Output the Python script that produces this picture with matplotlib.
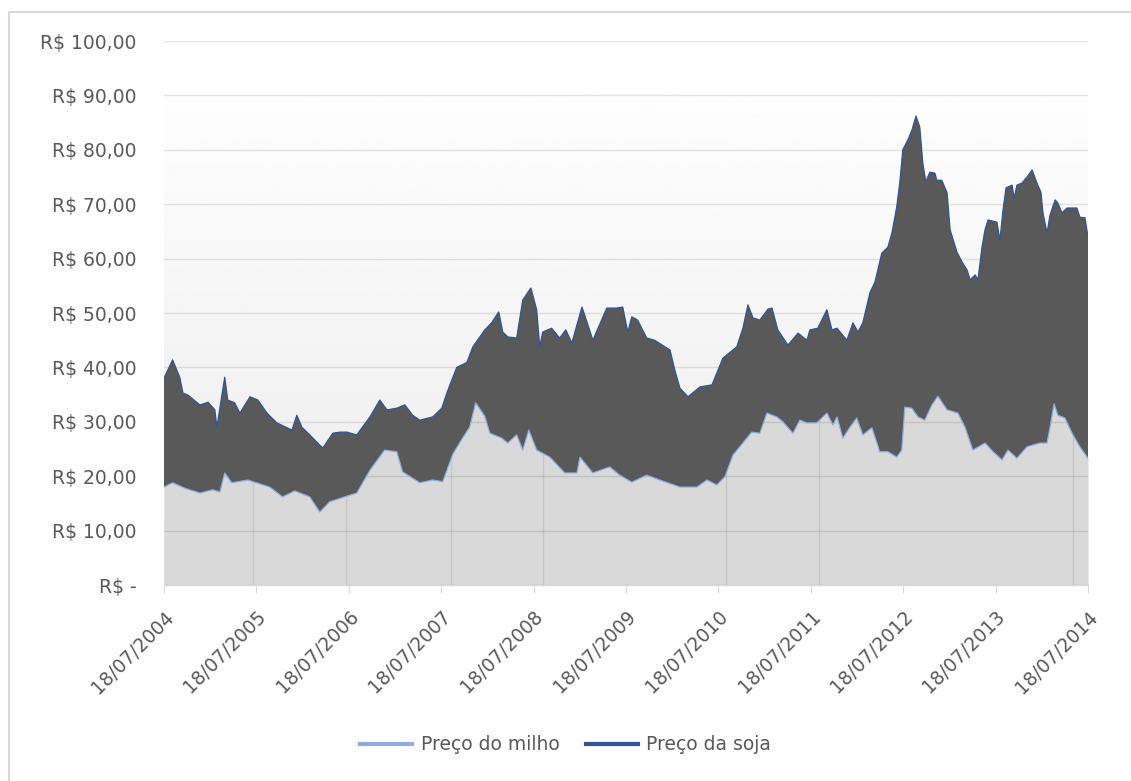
import numpy as np
import pandas as pd
import matplotlib
matplotlib.use("Agg")
import matplotlib.pyplot as plt
import matplotlib.dates as mdates
from matplotlib.lines import Line2D

# soy price (upper series)
soy_dates = ['2004-07-18', '2004-08-21', '2004-09-18', '2004-10-01', '2004-10-21', '2004-12-07',
             '2005-01-08', '2005-02-04', '2005-02-12', '2005-03-15', '2005-03-27', '2005-04-23',
             '2005-05-14', '2005-06-23', '2005-07-24', '2005-08-29', '2005-10-07', '2005-11-16',
             '2005-12-06', '2005-12-25', '2006-01-14', '2006-02-14', '2006-03-26', '2006-04-07',
             '2006-05-16', '2006-06-13', '2006-07-11', '2006-08-19', '2006-10-10', '2006-11-18',
             '2006-12-16', '2007-01-24', '2007-02-25', '2007-03-28', '2007-04-25', '2007-06-15',
             '2007-07-21', '2007-08-10', '2007-09-18', '2007-10-28', '2007-11-21', '2008-01-07',
             '2008-02-03', '2008-03-02', '2008-03-18', '2008-04-07', '2008-05-12', '2008-06-05',
             '2008-07-07', '2008-07-30', '2008-08-11', '2008-08-23', '2008-09-27', '2008-10-29',
             '2008-11-22', '2008-12-16', '2009-01-25', '2009-03-09', '2009-05-03', '2009-06-11',
             '2009-07-05', '2009-07-25', '2009-08-10', '2009-09-02', '2009-10-08', '2009-11-08',
             '2010-01-08', '2010-01-27', '2010-02-16', '2010-03-20', '2010-05-06', '2010-06-23',
             '2010-08-05', '2010-09-29', '2010-10-23', '2010-11-12', '2010-12-02', '2010-12-29',
             '2011-01-30', '2011-02-15', '2011-03-10', '2011-04-19', '2011-05-29', '2011-07-03',
             '2011-07-15', '2011-08-15', '2011-09-20', '2011-10-10', '2011-10-30', '2011-12-08',
             '2012-01-01', '2012-01-21', '2012-02-09', '2012-03-08', '2012-03-28', '2012-04-24',
             '2012-05-18', '2012-06-03', '2012-06-22', '2012-07-04', '2012-07-16', '2012-08-05',
             '2012-08-21', '2012-09-06', '2012-09-21', '2012-10-03', '2012-10-15', '2012-10-31',
             '2012-11-20', '2012-11-27', '2012-12-17', '2013-01-07', '2013-01-19', '2013-02-15',
             '2013-03-07', '2013-03-27', '2013-04-08', '2013-04-28', '2013-05-09', '2013-05-25',
             '2013-06-06', '2013-06-18', '2013-07-23', '2013-08-04', '2013-08-16', '2013-08-28',
             '2013-09-21', '2013-09-29', '2013-10-10', '2013-10-30', '2013-11-19', '2013-12-09',
             '2013-12-28', '2014-01-13', '2014-01-21', '2014-02-06', '2014-02-18', '2014-03-10',
             '2014-03-21', '2014-04-06', '2014-04-26', '2014-06-04', '2014-06-16', '2014-07-06',
             '2014-07-18']
soy_price = [38.0, 41.4, 38.2, 35.3, 34.9, 33.1,
             33.6, 32.2, 29.0, 38.2, 34.0, 33.5,
             31.6, 34.6, 34.0, 31.6, 29.8, 28.9,
             28.5, 31.2, 29.0, 27.6, 25.7, 25.2,
             27.9, 28.1, 28.1, 27.6, 30.9, 34.0,
             32.2, 32.5, 33.1, 31.2, 30.3, 30.9,
             32.5, 35.3, 40.0, 40.9, 43.8, 46.9,
             48.2, 50.2, 46.5, 45.6, 45.4, 52.4,
             54.6, 50.6, 43.8, 46.5, 47.2, 45.4,
             46.9, 44.5, 51.1, 45.0, 50.9, 50.9,
             51.1, 46.5, 49.3, 48.7, 45.4, 45.0,
             43.2, 39.5, 36.2, 34.6, 36.4, 36.8,
             41.7, 43.8, 47.2, 51.5, 49.1, 48.7,
             50.7, 50.9, 46.9, 44.1, 46.3, 45.0,
             46.9, 47.2, 50.6, 46.9, 47.2, 45.0,
             48.2, 46.5, 48.2, 53.7, 55.7, 61.0,
             62.1, 64.7, 69.5, 73.9, 80.0, 81.8,
             83.6, 86.2, 84.2, 77.6, 74.1, 75.9,
             75.7, 74.4, 74.4, 72.1, 65.3, 61.2,
             59.4, 57.9, 56.1, 57.0, 56.1, 62.1,
             65.3, 67.1, 66.7, 63.4, 68.9, 73.0,
             73.5, 71.1, 73.5, 73.9, 75.0, 76.3,
             73.9, 72.2, 68.4, 64.7, 68.0, 70.8,
             70.2, 68.4, 69.3, 69.3, 67.6, 67.5,
             64.0]

# corn price (lower series)
corn_dates = ['2004-07-18', '2004-08-21', '2004-10-08', '2004-12-07', '2005-01-27', '2005-02-24',
              '2005-03-15', '2005-04-12', '2005-06-14', '2005-09-09', '2005-10-30', '2005-12-17',
              '2006-02-14', '2006-03-26', '2006-05-04', '2006-07-02', '2006-08-19', '2006-10-10',
              '2006-12-07', '2007-01-24', '2007-02-16', '2007-04-25', '2007-06-15', '2007-07-25',
              '2007-09-02', '2007-10-07', '2007-11-08', '2007-12-02', '2008-01-07', '2008-01-27',
              '2008-03-14', '2008-04-07', '2008-05-12', '2008-06-05', '2008-06-29', '2008-07-30',
              '2008-09-20', '2008-11-18', '2009-01-05', '2009-01-17', '2009-03-09', '2009-05-15',
              '2009-06-23', '2009-08-10', '2009-10-08', '2009-11-29', '2010-02-16', '2010-04-24',
              '2010-06-03', '2010-07-12', '2010-08-13', '2010-09-14', '2010-10-23', '2010-11-27',
              '2010-12-29', '2011-01-26', '2011-03-06', '2011-03-30', '2011-05-09', '2011-06-05',
              '2011-07-03', '2011-08-11', '2011-09-20', '2011-10-14', '2011-10-30', '2011-11-22',
              '2011-12-20', '2012-01-16', '2012-02-09', '2012-03-16', '2012-04-16', '2012-05-18',
              '2012-06-22', '2012-07-12', '2012-07-24', '2012-08-21', '2012-09-14', '2012-10-11',
              '2012-11-08', '2012-12-02', '2013-01-07', '2013-02-19', '2013-03-19', '2013-04-19',
              '2013-06-06', '2013-07-08', '2013-08-12', '2013-09-05', '2013-10-10', '2013-11-19',
              '2014-01-09', '2014-02-06', '2014-02-18', '2014-03-06', '2014-03-21', '2014-04-18',
              '2014-05-16', '2014-06-16', '2014-07-18']
corn_price = [18.0, 18.8, 17.8, 16.9, 17.5, 17.1,
              20.6, 18.8, 19.3, 18.0, 16.2, 17.3,
              16.2, 13.4, 15.3, 16.2, 16.9, 21.1,
              24.8, 24.5, 20.8, 18.8, 19.3, 19.0,
              24.0, 26.7, 29.0, 33.5, 31.0, 27.9,
              27.0, 26.1, 27.6, 24.8, 28.5, 24.8,
              23.5, 20.6, 20.6, 23.5, 20.6, 21.7,
              20.2, 18.9, 20.2, 19.3, 18.0, 18.0,
              19.3, 18.4, 19.9, 23.9, 26.1, 28.1,
              27.9, 31.6, 30.9, 30.0, 27.9, 30.3,
              29.8, 29.8, 31.6, 29.4, 30.9, 27.0,
              29.0, 30.7, 27.6, 28.9, 24.5, 24.5,
              23.5, 24.8, 32.7, 32.5, 30.9, 30.3,
              33.1, 34.7, 32.2, 31.6, 29.0, 24.8,
              26.1, 24.5, 23.0, 24.8, 23.3, 25.4,
              26.1, 26.1, 29.0, 33.3, 31.2, 30.7,
              27.9, 25.4, 23.3]

# days missing from the daily series
gap_dates = ['2005-07-05', '2006-07-07', '2007-08-26', '2008-08-24',
             '2010-08-17', '2011-08-20', '2014-05-19']

tick_dates = ['2004-07-18', '2005-07-18', '2006-07-18', '2007-07-18', '2008-07-18', '2009-07-18',
              '2010-07-18', '2011-07-18', '2012-07-18', '2013-07-18', '2014-07-18']
y_ticks = [0, 10, 20, 30, 40, 50, 60, 70, 80, 90, 100]
y_labels = ['R$ -', 'R$ 10,00', 'R$ 20,00', 'R$ 30,00', 'R$ 40,00', 'R$ 50,00',
            'R$ 60,00', 'R$ 70,00', 'R$ 80,00', 'R$ 90,00', 'R$ 100,00']

plt.rcParams['font.family'] = ['DejaVu Sans']
txt = '#595959'

sd = mdates.date2num(pd.to_datetime(soy_dates))
cd = mdates.date2num(pd.to_datetime(corn_dates))
td = mdates.date2num(pd.to_datetime(tick_dates))
gd = mdates.date2num(pd.to_datetime(gap_dates))

fig = plt.figure(figsize=(11.31, 7.81), dpi=100)
ax = fig.add_axes([164 / 1131, 1 - 585 / 781, 924 / 1131, 544 / 781])
ax.set_xlim(td[0], td[-1])
ax.set_ylim(0, 100)

# plot area shading, white at the top fading to grey
grad = np.linspace(0.92, 0.995, 256).reshape(-1, 1)
ax.imshow(grad, cmap='gray', vmin=0, vmax=1, origin='lower', aspect='auto',
          extent=(td[0], td[-1], 0, 90), zorder=0)

corn_fill = ax.fill_between(cd, 0, corn_price, color='#d9d9d9', lw=0, zorder=1)
for g in gd:
    vl = ax.axvline(g, color='#c6c6c6', lw=1, zorder=1.2)
    vl.set_clip_path(corn_fill.get_paths()[0], corn_fill.get_transform())

for v in y_ticks:
    ax.axhline(v, color='black', alpha=0.1, lw=1, zorder=1.5)

ax.fill(np.concatenate([sd, cd[::-1]]), np.concatenate([soy_price, corn_price[::-1]]),
        color='#595959', lw=0, zorder=2)
ax.plot(cd, corn_price, color='#8faadc', lw=0.9, zorder=3)
ax.plot(sd, soy_price, color='#2f5597', lw=0.9, zorder=3)

for s in ['top', 'right', 'left']:
    ax.spines[s].set_visible(False)
ax.spines['bottom'].set_color('#d9d9d9')
ax.spines['bottom'].set_linewidth(1)

ax.set_xticks(td)
ax.set_xticklabels(pd.to_datetime(tick_dates).strftime('%d/%m/%Y'), rotation=45,
                   ha='right', rotation_mode='anchor', color=txt, fontsize=13.5)
ax.tick_params(axis='x', length=6, color='#d9d9d9', pad=10)
ax.set_yticks(y_ticks)
ax.set_yticklabels(y_labels, color=txt, fontsize=13.5)
ax.tick_params(axis='y', length=0, pad=20)

handles = [Line2D([], [], color='#8faadc', lw=3),
           Line2D([], [], color='#2f5597', lw=3)]
fig.legend(handles, ['Preço do milho', 'Preço da soja'], loc='center',
           bbox_to_anchor=(0.5, 1 - 745 / 781), ncol=2, frameon=False,
           fontsize=13.5, labelcolor=txt, handlelength=2.8, columnspacing=1.4,
           handletextpad=0.45)

# chart border
fig.add_artist(Line2D([9 / 1131, 9 / 1131, 1.0], [0.0, 1 - 12 / 781, 1 - 12 / 781],
                      transform=fig.transFigure, color='#d9d9d9', lw=1.5))

fig.savefig('out.png', dpi=100)
